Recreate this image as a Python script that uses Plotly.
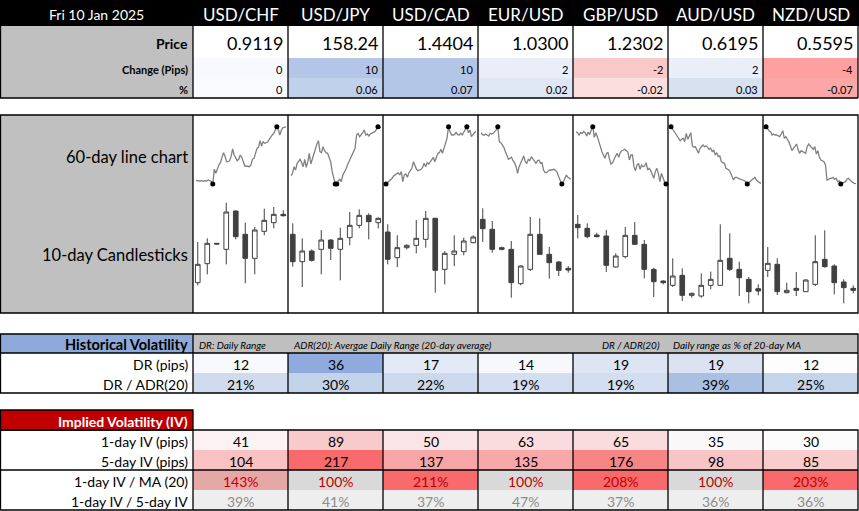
import plotly.graph_objects as go

W, H = 859, 511
FONT = "Lato"

# ---------------- data ----------------
date_label = "Fri 10 Jan 2025"
pairs = ["USD/CHF", "USD/JPY", "USD/CAD", "EUR/USD", "GBP/USD", "AUD/USD", "NZD/USD"]
prices = ["0.9119", "158.24", "1.4404", "1.0300", "1.2302", "0.6195", "0.5595"]
change_pips = [0, 10, 10, 2, -2, 2, -4]
change_pct = [0, 0.06, 0.07, 0.02, -0.02, 0.03, -0.07]
dr_pips = [12, 36, 17, 14, 19, 19, 12]
dr_adr_pct = [21, 30, 22, 19, 19, 39, 25]
iv_1d = [41, 89, 50, 63, 65, 35, 30]
iv_5d = [104, 217, 137, 135, 176, 98, 85]
iv_ma_pct = [143, 100, 211, 100, 208, 100, 203]
iv_ratio_pct = [39, 41, 37, 47, 37, 36, 36]

# 60-day closes (relative units read from the sparklines)
line_usdchf = [28, 27, 28, 27, 28, 26, 28, 27, 30, 29, 26, 18, 62, 50, 65, 75, 82, 100, 112, 102,
               85, 85, 88, 100, 123, 105, 98, 88, 92, 105, 98, 82, 72, 72, 70, 70, 75, 92, 95, 110,
               125, 128, 148, 132, 145, 140, 143, 144, 152, 160, 165, 170, 180, 190, 180, 165, 180, 187, 188, 189]
line_usdjpy = [42, 50, 70, 60, 80, 88, 92, 82, 70, 92, 68, 85, 110, 78, 95, 105, 128, 138, 148, 115,
               112, 130, 118, 112, 110, 98, 85, 55, 40, 18, 18, 28, 32, 25, 45, 52, 62, 75, 85, 92,
               105, 110, 125, 165, 170, 160, 165, 172, 180, 165, 168, 162, 168, 170, 174, 175, 182, 190, 186, 188]
line_usdcad = [18, 22, 28, 32, 35, 42, 45, 50, 52, 45, 55, 25, 45, 48, 38, 52, 60, 65, 85, 75,
               62, 58, 60, 62, 68, 80, 70, 82, 78, 85, 90, 98, 85, 100, 110, 112, 122, 110, 130, 140,
               155, 190, 175, 165, 165, 166, 174, 166, 165, 170, 165, 175, 180, 190, 172, 180, 160, 168, 172, 176]
line_eurusd = [172, 166, 164, 168, 165, 162, 170, 168, 170, 175, 180, 190, 145, 142, 135, 128, 115, 105, 92, 95,
               98, 88, 82, 70, 50, 70, 80, 92, 102, 85, 80, 92, 88, 100, 92, 85, 80, 88, 90, 80,
               82, 60, 52, 52, 55, 60, 60, 62, 62, 58, 52, 38, 30, 18, 25, 35, 45, 38, 34, 32]
line_gbpusd = [175, 172, 165, 172, 170, 176, 172, 162, 174, 166, 180, 190, 158, 172, 160, 148, 130, 115, 102, 95,
               110, 112, 92, 78, 82, 95, 102, 110, 98, 112, 118, 120, 122, 118, 114, 90, 105, 105, 70, 58,
               75, 80, 62, 75, 70, 72, 82, 60, 65, 58, 45, 35, 55, 65, 50, 25, 50, 35, 25, 18]
line_audusd = [190, 182, 175, 168, 162, 155, 148, 152, 155, 145, 170, 152, 162, 172, 132, 128, 130, 118, 110, 125,
               132, 135, 130, 132, 128, 122, 125, 115, 120, 105, 112, 100, 102, 85, 82, 80, 65, 62, 60, 52,
               42, 30, 38, 38, 35, 34, 32, 30, 28, 25, 18, 22, 25, 30, 35, 38, 30, 25, 22, 20]
line_nzdusd = [190, 182, 178, 175, 165, 168, 165, 165, 162, 160, 168, 178, 155, 160, 152, 145, 132, 118, 125, 132,
               138, 122, 110, 118, 115, 112, 110, 130, 138, 132, 125, 122, 130, 108, 118, 98, 90, 88, 85, 75,
               30, 32, 35, 35, 38, 32, 35, 25, 28, 18, 20, 22, 25, 32, 35, 30, 25, 22, 20, 19]

# 10-day candles (open, high, low, close) in relative units
candles_usdchf = [(64, 186, 56, 119), (121, 197, 89, 182), (182, 183, 179, 180), (164, 304, 119, 276),
                  (279, 281, 194, 202), (209, 244, 62, 137), (137, 231, 89, 222), (218, 286, 206, 251),
                  (244, 291, 227, 269), (269, 281, 262, 265)]
candles_usdjpy = [(209, 242, 112, 127), (127, 197, 51, 159), (159, 164, 127, 131), (164, 222, 89, 192),
                  (192, 194, 132, 167), (164, 229, 71, 197), (199, 276, 176, 236), (236, 284, 227, 266),
                  (266, 272, 194, 247), (244, 260, 227, 257)]
candles_usdcad = [(216, 239, 119, 134), (139, 206, 111, 169), (169, 179, 164, 176), (176, 252, 152, 197),
                  (194, 279, 169, 257), (257, 259, 34, 101), (104, 159, 59, 152), (149, 206, 114, 159),
                  (157, 199, 146, 189), (184, 206, 182, 201)]
candles_eurusd = [(254, 287, 186, 226), (224, 249, 154, 164), (169, 172, 161, 164), (164, 189, 19, 64),
                  (61, 116, 56, 114), (104, 261, 99, 209), (209, 257, 147, 149), (149, 171, 76, 124),
                  (126, 129, 84, 101), (107, 114, 94, 102)]
candles_gbpusd = [(239, 267, 197, 229), (227, 242, 197, 202), (207, 214, 200, 202), (204, 222, 96, 116),
                  (111, 152, 109, 144), (142, 231, 137, 206), (206, 246, 179, 179), (179, 192, 77, 104),
                  (104, 109, 21, 67), (69, 71, 59, 64)]
candles_audusd = [(56, 137, 51, 84), (86, 107, 9, 26), (26, 34, 19, 32), (24, 92, 19, 56),
                  (56, 97, 44, 74), (56, 239, 56, 131), (137, 212, 99, 104), (104, 127, 24, 79),
                  (74, 81, 2, 37), (46, 59, 26, 39)]
candles_nzdusd = [(101, 171, 81, 122), (119, 137, 27, 37), (34, 64, 32, 41), (47, 96, 24, 41),
                  (37, 74, 36, 72), (59, 206, 54, 127), (134, 221, 109, 112), (114, 119, 29, 64),
                  (66, 74, 2, 49), (47, 56, 32, 41)]

lines_60d = [line_usdchf, line_usdjpy, line_usdcad, line_eurusd, line_gbpusd, line_audusd, line_nzdusd]
candles_10d = [candles_usdchf, candles_usdjpy, candles_usdcad, candles_eurusd,
               candles_gbpusd, candles_audusd, candles_nzdusd]

# ---------------- styles ----------------
chg_colors = ["#f7f9fd", "#b4c6e7", "#b4c6e7", "#e9eef8", "#f9c9ca", "#e9eef8", "#ffa0a0"]
pct_colors = ["#f8fafd", "#bfd1eb", "#b4c6e7", "#dfe7f4", "#fcdede", "#d7e1f0", "#fba7a7"]
dr_colors = ["#f8f9fc", "#8faadc", "#e3e9f5", "#f6f8fc", "#dde4f3", "#dbe3f2", "#fdfdfe"]
dradr_colors = ["#d0dcee", "#c3d3ea", "#ccd9ed", "#d3def0", "#d3def0", "#a9c0e2", "#c4d4eb"]
iv1_colors = ["#fdf2f3", "#f9caca", "#fbe4e6", "#fadcdf", "#fadcdf", "#fbf8fa", "#fcfcfd"]
iv5_colors = ["#f8c1c2", "#f86a6b", "#f7a6a7", "#f8a8a9", "#f68586", "#f9c4c5", "#f9cccd"]
ivma_colors = ["#e6a7a7", "#d9d9d9", "#f86a6b", "#d9d9d9", "#f86a6b", "#d9d9d9", "#f86a6b"]
ivratio_color = "#eeeeee"
GRAY = "#c0c0c0"
LW = 1.3

LABEL_W = 193
COL_W = 95
NCOL = len(pairs)
RIGHT = LABEL_W + COL_W * NCOL


def cl(i):
    return LABEL_W + COL_W * i


shapes = []
annots = []


def rect(x0, y0, x1, y1, fill=None, lc=None, lw=0, layer="below"):
    shapes.append(dict(type="rect", xref="x", yref="y", x0=x0, y0=y0, x1=x1, y1=y1,
                       fillcolor=fill or "rgba(0,0,0,0)",
                       line=dict(color=lc or "rgba(0,0,0,0)", width=lw), layer=layer))


def hline(x0, x1, y):
    shapes.append(dict(type="line", xref="x", yref="y", x0=x0, x1=x1, y0=y, y1=y,
                       line=dict(color="black", width=LW), layer="above"))


def vline(x, y0, y1):
    shapes.append(dict(type="line", xref="x", yref="y", x0=x, x1=x, y0=y0, y1=y1,
                       line=dict(color="black", width=LW), layer="above"))


def text(x, y, s, size, color="black", anchor="center", bold=False, italic=False):
    if bold:
        s = "<b>" + s + "</b>"
    if italic:
        s = "<i>" + s + "</i>"
    annots.append(dict(x=x, y=y, xref="x", yref="y", text=s, showarrow=False,
                       xanchor=anchor, yanchor="middle",
                       font=dict(family=FONT, size=size, color=color)))


# ---------- section 1: header + prices ----------
rect(0, 0, RIGHT + 1, 26, fill="black")
text(LABEL_W / 2, 14, date_label, 14, color="white")
for i, p in enumerate(pairs):
    text(cl(i) + COL_W / 2, 14, p, 17, color="white")

rect(0, 26, LABEL_W, 98, fill=GRAY)
text(LABEL_W - 3, 43, "Price", 14, bold=True, anchor="right")
text(LABEL_W - 3, 69, "Change (Pips)", 11, bold=True, anchor="right")
text(LABEL_W - 3, 89, "%", 11, bold=True, anchor="right")
for i in range(NCOL):
    rect(cl(i), 58, cl(i + 1), 78, fill=chg_colors[i])
    rect(cl(i), 78, cl(i + 1), 98, fill=pct_colors[i])
    text(cl(i + 1) - 3, 43, prices[i], 18, anchor="right")
    text(cl(i + 1) - 3, 69, f"{change_pips[i]:g}", 11, anchor="right")
    text(cl(i + 1) - 3, 89, f"{change_pct[i]:g}", 11, anchor="right")
for i in range(NCOL + 1):
    vline(cl(i), 26, 98)
vline(0.5, 26, 98)
hline(0, RIGHT, 98)

# ---------- section 2: charts ----------
rect(0, 115, LABEL_W, 313, fill=GRAY)
text(LABEL_W - 3, 157, "60-day line chart", 16.5, anchor="right")
text(LABEL_W - 3, 255, "10-day Candlesticks", 16.5, anchor="right")
rect(0.5, 115, RIGHT, 313, lc="black", lw=LW, layer="above")
for i in range(NCOL):
    vline(cl(i), 115, 313)

# ---------- section 3: historical volatility ----------
HV0, HV1, HV2, HV3 = 334, 353, 373, 393
rect(0, HV0, LABEL_W, HV1, fill="#8eaadb")
rect(LABEL_W, HV0, RIGHT, HV1, fill="#bfbfbf")
text(LABEL_W - 3, (HV0 + HV1) / 2 + 1, "Historical Volatility", 14.5, bold=True, anchor="right")
text(LABEL_W + 4, (HV0 + HV1) / 2 + 1, "DR: Daily Range", 10, italic=True, anchor="left")
text(cl(1) + 3, (HV0 + HV1) / 2 + 1, "ADR(20): Avergae Daily Range (20-day average)", 10, italic=True, anchor="left")
text(cl(5) - 6, (HV0 + HV1) / 2 + 1, "DR / ADR(20)", 10, italic=True, anchor="right")
text(cl(5) + 3, (HV0 + HV1) / 2 + 1, "Daily range as % of 20-day MA", 10, italic=True, anchor="left")
text(LABEL_W - 3, (HV1 + HV2) / 2 + 1, "DR (pips)", 14, anchor="right")
text(LABEL_W - 3, (HV2 + HV3) / 2 + 1, "DR / ADR(20)", 14, anchor="right")
for i in range(NCOL):
    rect(cl(i), HV1, cl(i + 1), HV2, fill=dr_colors[i])
    rect(cl(i), HV2, cl(i + 1), HV3, fill=dradr_colors[i])
    text(cl(i) + COL_W / 2, (HV1 + HV2) / 2 + 1, f"{dr_pips[i]}", 14)
    text(cl(i) + COL_W / 2, (HV2 + HV3) / 2 + 1, f"{dr_adr_pct[i]}%", 14)
rect(0.5, HV0, RIGHT, HV3, lc="black", lw=LW, layer="above")
hline(0, RIGHT, HV1)
vline(LABEL_W, HV0, HV3)
for i in range(1, NCOL):
    vline(cl(i), HV1, HV3)

# ---------- section 4: implied volatility ----------
IV0, IV1 = 410, 430
rows_iv = [430, 450, 470, 490, 510]
rect(0.5, IV0, LABEL_W, IV1, fill="#c00000", lc="black", lw=LW)
text(LABEL_W - 3, (IV0 + IV1) / 2 + 1, "Implied Volatility (IV)", 14, color="white", bold=True, anchor="right")
iv_labels = ["1-day IV (pips)", "5-day IV (pips)", "1-day IV / MA (20)", "1-day IV / 5-day IV"]
for r, lab in enumerate(iv_labels):
    text(LABEL_W - 3, (rows_iv[r] + rows_iv[r + 1]) / 2 + 1, lab, 14, anchor="right")
for i in range(NCOL):
    fills = [iv1_colors[i], iv5_colors[i], ivma_colors[i], ivratio_color]
    vals = [f"{iv_1d[i]}", f"{iv_5d[i]}", f"{iv_ma_pct[i]}%", f"{iv_ratio_pct[i]}%"]
    cols = ["black", "black", "#c00000", "#8c8c8c"]
    for r in range(4):
        rect(cl(i), rows_iv[r], cl(i + 1), rows_iv[r + 1], fill=fills[r])
        text(cl(i) + COL_W / 2, (rows_iv[r] + rows_iv[r + 1]) / 2 + 1, vals[r], 14, color=cols[r])
rect(0.5, rows_iv[0], RIGHT, rows_iv[-1], lc="black", lw=LW, layer="above")
hline(0, RIGHT, rows_iv[2])
for i in range(NCOL):
    vline(cl(i), rows_iv[0], rows_iv[-1])

# ---------- traces ----------
fig = go.Figure()
layout_axes = {}


def py(yscreen):
    return 1 - yscreen / H


LINE_TOP, LINE_BOT = 120, 190
CND_TOP, CND_BOT = 196, 304
for i in range(NCOL):
    n = 2 + i
    vals = lines_60d[i]
    xs = list(range(len(vals)))
    fig.add_trace(go.Scatter(x=xs, y=vals, mode="lines", line=dict(color="#808080", width=1.3),
                             xaxis=f"x{n}", yaxis=f"y{n}", hoverinfo="skip", cliponaxis=False))
    vmax, vmin = max(vals), min(vals)
    ex = [x for x, v in zip(xs, vals) if v in (vmax, vmin)]
    ey = [v for v in vals if v in (vmax, vmin)]
    fig.add_trace(go.Scatter(x=ex, y=ey, mode="markers", marker=dict(color="black", size=5),
                             xaxis=f"x{n}", yaxis=f"y{n}", hoverinfo="skip", cliponaxis=False))
    layout_axes[f"xaxis{n}"] = dict(domain=[(cl(i) + 3) / W, (cl(i + 1) - 2) / W],
                                    range=[0, len(vals) - 1], visible=False, anchor=f"y{n}", fixedrange=True)
    layout_axes[f"yaxis{n}"] = dict(domain=[py(LINE_BOT), py(LINE_TOP)], range=[0, 210],
                                    visible=False, anchor=f"x{n}", fixedrange=True)

for i in range(NCOL):
    n = 9 + i
    c = candles_10d[i]
    fig.add_trace(go.Candlestick(
        x=list(range(len(c))),
        open=[k[0] for k in c], high=[k[1] for k in c], low=[k[2] for k in c], close=[k[3] for k in c],
        increasing=dict(line=dict(color="#404040", width=1), fillcolor="white"),
        decreasing=dict(line=dict(color="#404040", width=1), fillcolor="#404040"),
        whiskerwidth=0, xaxis=f"x{n}", yaxis=f"y{n}", hoverinfo="skip"))
    layout_axes[f"xaxis{n}"] = dict(domain=[cl(i) / W, cl(i + 1) / W], range=[-0.5, len(c) - 0.5],
                                    visible=False, anchor=f"y{n}", fixedrange=True,
                                    rangeslider=dict(visible=False))
    layout_axes[f"yaxis{n}"] = dict(domain=[py(CND_BOT), py(CND_TOP)], range=[0, 324],
                                    visible=False, anchor=f"x{n}", fixedrange=True)

fig.update_layout(
    width=W, height=H,
    margin=dict(l=0, r=0, t=0, b=0),
    paper_bgcolor="white", plot_bgcolor="rgba(0,0,0,0)",
    showlegend=False,
    xaxis=dict(range=[0, W], domain=[0, 1], visible=False, fixedrange=True),
    yaxis=dict(range=[H, 0], domain=[0, 1], visible=False, fixedrange=True),
    shapes=shapes, annotations=annots,
    font=dict(family=FONT),
    **layout_axes,
)

fig.write_html("out.html", config={"displayModeBar": False},
               post_script="document.body.style.margin='0';document.body.style.overflow='hidden';")
